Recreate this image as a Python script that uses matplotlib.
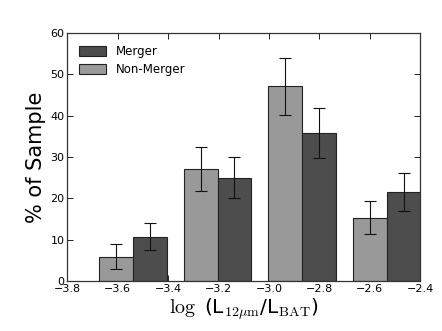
import numpy as np
import matplotlib
matplotlib.use('Agg')
import matplotlib.pyplot as plt

plt.rcParams['mathtext.fontset'] = 'cm'

# bin centres of log(L12um/LBAT)
bin_centers = np.array([-3.540, -3.204, -2.868, -2.532])
bin_width = 0.336

nonmerger = [5.9, 27.1, 47.1, 15.3]
nonmerger_err = [3.0, 5.3, 6.9, 3.95]
merger = [10.7, 25.0, 35.8, 21.5]
merger_err = [3.3, 5.0, 6.0, 4.6]

bar_w = 0.4 * bin_width

fig, ax = plt.subplots(figsize=(4.42, 3.31), dpi=100)
fig.subplots_adjust(left=0.152, right=0.951, top=0.9, bottom=0.151)

ax.bar(bin_centers - bar_w / 2, nonmerger, bar_w, color='#999999',
       edgecolor='#222222', linewidth=0.8, label='Non-Merger', zorder=2)
ax.bar(bin_centers + bar_w / 2, merger, bar_w, color='#4d4d4d',
       edgecolor='#222222', linewidth=0.8, label='Merger', zorder=2)
ax.errorbar(bin_centers - bar_w / 2, nonmerger, yerr=nonmerger_err, fmt='none',
            ecolor='#111111', elinewidth=0.8, capsize=4, capthick=0.8, zorder=3)
ax.errorbar(bin_centers + bar_w / 2, merger, yerr=merger_err, fmt='none',
            ecolor='#111111', elinewidth=0.8, capsize=4, capthick=0.8, zorder=3)

ax.set_xlim(-3.8, -2.4)
ax.set_ylim(0, 60)
ax.set_xticks(np.arange(-3.8, -2.39, 0.2))
ax.set_xticklabels(['\u22123.8', '\u22123.6', '\u22123.4', '\u22123.2',
                    '\u22123.0', '\u22122.8', '\u22122.6', '\u22122.4'])
ax.tick_params(direction='in', top=True, right=True, labelsize=8,
               length=4, width=0.6, pad=2)
for s in ax.spines.values():
    s.set_linewidth(0.9)
    s.set_color('#333333')

ax.set_ylabel('% of Sample', fontsize=15, labelpad=3)
ax.set_xlabel(r'$\log$ (L$_{12\mu\rm{m}}$/L$_{\rm{BAT}}$)', fontsize=14.5, labelpad=1.5)

h, l = ax.get_legend_handles_labels()
ax.legend(h[::-1], l[::-1], loc='upper left', frameon=False, fontsize=8.5,
          handlelength=2.3, handleheight=0.9, borderaxespad=0.6, labelspacing=0.45)

fig.savefig('out.png', dpi=100)
